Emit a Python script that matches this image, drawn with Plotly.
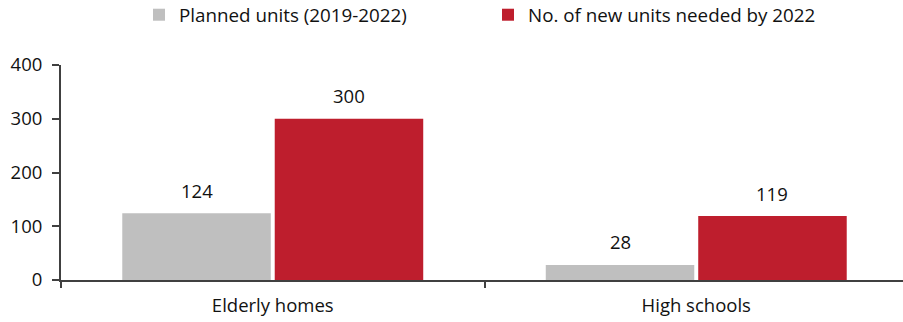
import plotly.graph_objects as go

categories = ["Elderly homes", "High schools"]
planned = [124, 28]
needed = [300, 119]
series_names = ["Planned units (2019-2022)", "No. of new units needed by 2022"]
y_ticks = [0, 100, 200, 300, 400]

GREY = "#BFBFBF"
RED = "#BE1E2D"
FONT = "Open Sans, Noto Sans, sans-serif"
AX = "#404040"
FS = 18.5

fig = go.Figure()
fig.add_trace(go.Bar(x=categories, y=planned, name=series_names[0], marker=dict(color=GREY, line=dict(width=0))))
fig.add_trace(go.Bar(x=categories, y=needed, name=series_names[1], marker=dict(color=RED, line=dict(width=0))))

W, H = 908, 322
ml, mr, mt, mb = 61, 0, 65, 42
bargap = 0.28
plot_w = W - ml - mr
plot_h = H - mt - mb
cat_px = plot_w / len(categories)
slot = cat_px * (1 - bargap) / 2
for i, c in enumerate(categories):
    for j, vals in enumerate([planned, needed]):
        fig.add_annotation(x=c, y=vals[i], text=str(vals[i]), showarrow=False,
                           xshift=(j - 0.5) * slot, yshift=23, yanchor="middle",
                           font=dict(family=FONT, size=FS, color="#111111"))

fig.update_layout(
    width=W, height=H,
    margin=dict(l=ml, r=mr, t=mt, b=mb, autoexpand=False),
    plot_bgcolor="white", paper_bgcolor="white",
    barmode="group", bargap=bargap, bargroupgap=0.026,
    font=dict(family=FONT, size=FS, color="#111111"),
    legend=dict(orientation="h", x=(139 - ml) / plot_w, xanchor="left",
                y=1 + (mt - 15) / plot_h, yanchor="middle",
                font=dict(family=FONT, size=18.8, color="#111111"),
                entrywidth=304, entrywidthmode="pixels", itemwidth=30, traceorder="normal"),
    showlegend=True,
)
fig.update_xaxes(showline=True, linecolor=AX, linewidth=2, ticks="outside", ticklen=6, tickcolor=AX,
                 tickwidth=2, tickson="boundaries", showgrid=False, zeroline=False, automargin=False,
                 ticklabelstandoff=8,
                 tickfont=dict(family=FONT, size=FS, color="#111111"))
fig.update_yaxes(range=[0, 400], tickvals=y_ticks, showline=True, linecolor=AX, linewidth=2,
                 ticks="outside", ticklen=7, tickcolor=AX, tickwidth=2, showgrid=False, zeroline=False,
                 automargin=False, ticklabelstandoff=6,
                 tickfont=dict(family=FONT, size=FS, color="#111111"))

fig.write_html("out.html", config={"displayModeBar": False},
               post_script="document.body.style.margin='0';document.body.style.overflow='hidden';")
